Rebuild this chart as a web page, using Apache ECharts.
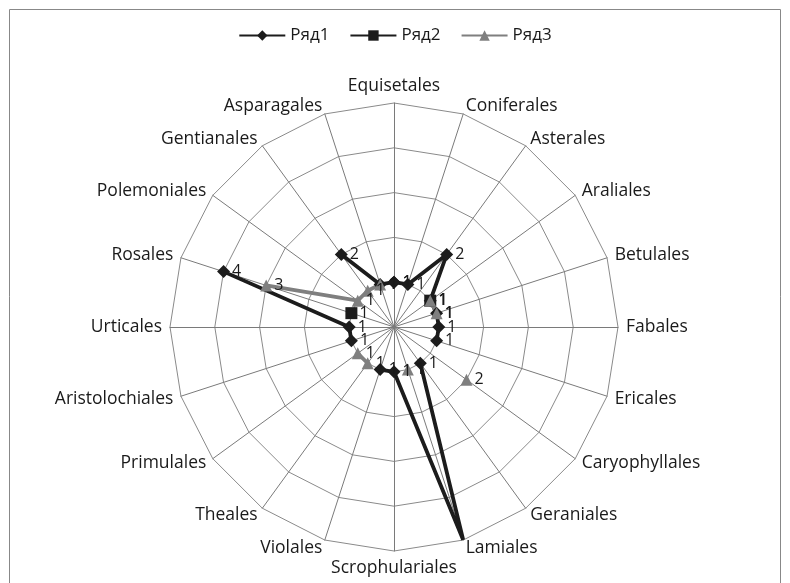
<!DOCTYPE html>
<html><head><meta charset="utf-8">
<script src="https://cdn.jsdelivr.net/npm/echarts@6/dist/echarts.min.js"></script>
<style>html,body{margin:0;padding:0;background:#fff}#c{width:790px;height:583px}</style>
</head><body><div id="c"></div>
<script>
var categories = ['Equisetales','Coniferales','Asterales','Araliales','Betulales','Fabales','Ericales','Caryophyllales','Geraniales','Lamiales','Scrophulariales','Violales','Theales','Primulales','Aristolochiales','Urticales','Rosales','Polemoniales','Gentianales','Asparagales'];
var seriesNames = ['Ряд1','Ряд2','Ряд3'];
// null = empty cell (gap)
var ryad1 = [1,1,2,1,1,1,1,null,1,5,1,1,null,null,1,1,4,null,2,1];
var ryad2 = [null,null,null,1,null,null,null,null,null,null,null,null,null,null,null,null,1,null,null,null];
var ryad3 = [null,null,null,1,1,null,null,2,null,1,null,null,1,1,null,null,3,1,1,1];
var maxValue = 5;

function toPolar(vals){
  var out = vals.map(function(v,i){ return [v==null?'-':v, i]; });
  out.push([vals[0]==null?'-':vals[0], vals.length]);
  return out;
}
// radar indicators run counter-clockwise; reorder so names go clockwise
var radarOrder = [categories[0]].concat(categories.slice(1).reverse());
var chart = echarts.init(document.getElementById('c'));
var font = '"Open Sans", sans-serif';
var center = [394, 327], radius = 224;
function mk(name, vals, color, symbol, size){
  return {
    name: name, type: 'line', coordinateSystem: 'polar', data: toPolar(vals),
    symbol: symbol, symbolSize: size, showSymbol: true, showAllSymbol: true,
    connectNulls: false, animation: false,
    lineStyle: {color: color, width: 3.8}, itemStyle: {color: color},
    label: {show: true, position: 'right', distance: 2, color: '#1a1a1a', fontSize: 16, fontFamily: font,
      formatter: function(p){ return p.value[0]; }}
  };
}
chart.setOption({
  animation: false,
  graphic: [{type:'rect', shape:{x:9.5,y:9.5,width:771,height:580}, style:{fill:'none', stroke:'#888', lineWidth:1}}],
  legend: {top: 22, left: 'center', itemWidth: 46, itemHeight: 13, itemGap: 20,
    textStyle: {fontSize: 17, fontFamily: font, color: '#1a1a1a'}, data: seriesNames},
  radar: {
    center: center, radius: radius, shape: 'polygon', splitNumber: 5, startAngle: 90,
    indicator: radarOrder.map(function(c){ return {name: c, max: maxValue, min: 0}; }),
    axisName: {color: '#1a1a1a', fontSize: 17.5, fontFamily: font},
    nameGap: 8,
    axisLine: {lineStyle: {color: '#7a7a7a', width: 1}},
    splitLine: {lineStyle: {color: '#8a8a8a', width: 1}},
    splitArea: {show: false},
    axisTick: {show: false}, axisLabel: {show: false}
  },
  polar: {center: center, radius: radius},
  angleAxis: {type: 'value', min: 0, max: categories.length, startAngle: 90, clockwise: true, show: false},
  radiusAxis: {type: 'value', min: 0, max: maxValue, show: false},
  series: [
    mk(seriesNames[0], ryad1, '#1c1c1c', 'diamond', 13),
    mk(seriesNames[1], ryad2, '#1c1c1c', 'rect', 12),
    mk(seriesNames[2], ryad3, '#7f7f7f', 'triangle', 12)
  ]
});
</script></body></html>
